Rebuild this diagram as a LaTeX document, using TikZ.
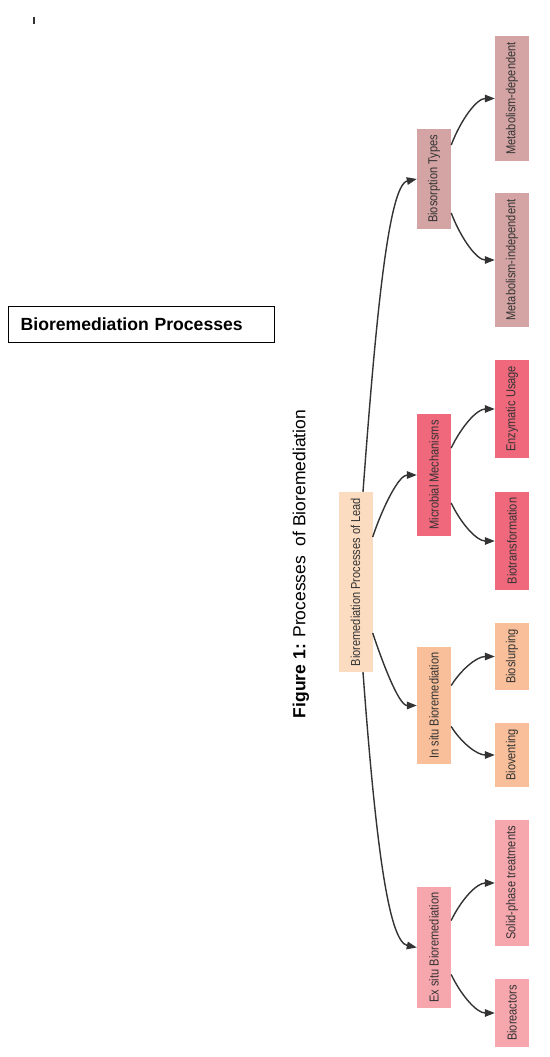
\documentclass[tikz,border=0pt]{standalone}
\usepackage{fontspec}
\setmainfont{Liberation Sans}
\newfontfamily\nodefont[FakeStretch=0.85]{Liberation Sans}
\usetikzlibrary{arrows.meta}
\definecolor{rootc}{HTML}{FCDCC1}
\definecolor{bioc}{HTML}{D4A3A3}
\definecolor{micc}{HTML}{F0687C}
\definecolor{insc}{HTML}{F8BF9A}
\definecolor{exsc}{HTML}{F6A6AD}
\definecolor{txt}{HTML}{333333}
\definecolor{edgec}{HTML}{333333}
\begin{document}
\begin{tikzpicture}[x=1pt,y=-1pt,
  box/.style={inner sep=0pt, minimum width=34pt, text=txt,
    font=\nodefont\fontsize{13}{15}\selectfont},
  edge/.style={draw=edgec, line width=1.4pt, -{Triangle[length=10pt,width=7.5pt]}}]
\useasboundingbox (0,0) rectangle (549,1057);
\fill[white] (0,0) rectangle (549,1057);
% small mark at top left
\draw[line width=1.6pt, edgec] (34,17) coordinate (m1) -- (34,24) coordinate (m2);
% title
\node (title) [draw, line width=1.3pt, anchor=north west, minimum width=266pt,
  minimum height=36pt, inner xsep=12pt, text width=242pt, align=left,
  font=\bfseries\fontsize{17.6}{20}\selectfont] at (8,306) {Bioremediation Processes};
% caption
\node (cap) [rotate=90, font=\fontsize{17.5}{20}\selectfont] at (301,564)
  {\textbf{Figure 1:} Processes\ \ of Bioremediation};
% nodes
\node (root) [box, fill=rootc, minimum height=180pt] at (355.5,582) {\rotatebox{90}{Bioremediation Processes of Lead}};
\node (bt) [box, fill=bioc, minimum height=100pt] at (434,179) {\rotatebox{90}{Biosorption Types}};
\node (mm) [box, fill=micc, minimum height=122pt] at (434,475) {\rotatebox{90}{Microbial Mechanisms}};
\node (is) [box, fill=insc, minimum height=117pt] at (434,705.5) {\rotatebox{90}{In situ Bioremediation}};
\node (ex) [box, fill=exsc, minimum height=121pt] at (434,947.5) {\rotatebox{90}{Ex situ Bioremediation}};
\node (md) [box, fill=bioc, minimum height=125pt] at (512,98.5) {\rotatebox{90}{Metabolism-dependent}};
\node (mi) [box, fill=bioc, minimum height=134pt] at (512,260) {\rotatebox{90}{Metabolism-independent}};
\node (eu) [box, fill=micc, minimum height=98pt] at (512,409) {\rotatebox{90}{Enzymatic Usage}};
\node (bf) [box, fill=micc, minimum height=98pt] at (512,541) {\rotatebox{90}{Biotransformation}};
\node (bs) [box, fill=insc, minimum height=67pt] at (512,656.5) {\rotatebox{90}{Bioslurping}};
\node (bv) [box, fill=insc, minimum height=64pt] at (512,755) {\rotatebox{90}{Bioventing}};
\node (sp) [box, fill=exsc, minimum height=126pt] at (512,883) {\rotatebox{90}{Solid-phase treatments}};
\node (br) [box, fill=exsc, minimum height=68pt] at (512,1013) {\rotatebox{90}{Bioreactors}};
% root edges
\draw[edge] ([xshift=7.5pt]root.north) .. controls +(12,-162) and +(-29,6) .. (bt.west);
\draw[edge] ([yshift=45pt]root.east) .. controls +(10,-30) and +(-18,0) .. (mm.west);
\draw[edge] ([yshift=-51pt]root.east) .. controls +(10,30) and +(-18,0) .. (is.west);
\draw[edge] ([xshift=7.5pt]root.south) .. controls +(12,162) and +(-29,-6) .. (ex.west);
% child edges
\draw[edge] ([yshift=34pt]bt.east) .. controls +(10,-26) and +(-18,0) .. (md.west);
\draw[edge] ([yshift=-34pt]bt.east) .. controls +(10,26) and +(-18,0) .. (mi.west);
\draw[edge] ([yshift=27pt]mm.east) .. controls +(10,-21) and +(-18,0) .. (eu.west);
\draw[edge] ([yshift=-28pt]mm.east) .. controls +(10,21) and +(-18,0) .. (bf.west);
\draw[edge] ([yshift=20pt]is.east) .. controls +(10,-16) and +(-18,0) .. (bs.west);
\draw[edge] ([yshift=-21pt]is.east) .. controls +(10,16) and +(-18,0) .. (bv.west);
\draw[edge] ([yshift=27pt]ex.east) .. controls +(10,-21) and +(-18,0) .. (sp.west);
\draw[edge] ([yshift=-27pt]ex.east) .. controls +(10,21) and +(-18,0) .. (br.west);
\end{tikzpicture}
\end{document}
